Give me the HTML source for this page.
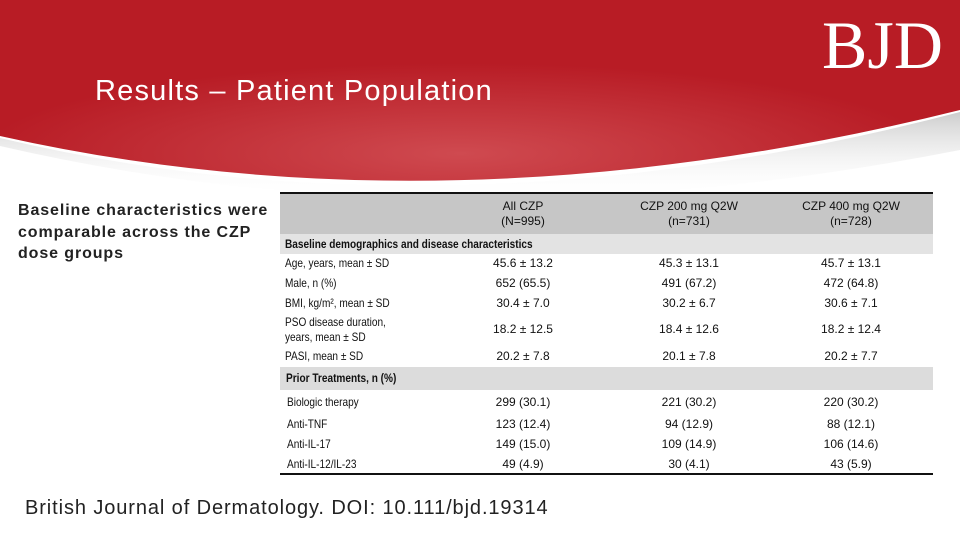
<!DOCTYPE html>
<html><head><meta charset="utf-8"><style>
body{margin:0;width:960px;height:540px;overflow:hidden;background:#fff;font-family:"Liberation Sans",sans-serif;position:relative}
.a{position:absolute;white-space:nowrap}
.c{transform:translateX(-50%);text-align:center}
.t{font-size:11px;color:#111}
.n{transform-origin:0 0;transform:scaleX(0.84)}
</style></head><body>
<svg class="a" style="left:0;top:0" width="960" height="200">
<defs><radialGradient id="g" cx="0.48" cy="0.85" r="0.5"><stop offset="0" stop-color="#cf4a50"/><stop offset="1" stop-color="#b81c25"/></radialGradient>
<linearGradient id="s" x1="0" y1="0" x2="0" y2="1"><stop offset="0" stop-color="#999" stop-opacity=".5"/><stop offset="1" stop-color="#fff" stop-opacity="0"/></linearGradient></defs>
<path d="M0,138 Q450,245 960,112 L960,150 Q450,250 0,146Z" fill="url(#s)"/>
<path d="M0,0H960V110 Q450,237 0,136Z" fill="url(#g)"/>
</svg>
<div class="a" style="left:822px;top:6px;font-family:'Liberation Serif',serif;font-size:68px;color:#fff;letter-spacing:0px">BJD</div>
<div class="a" style="left:95px;top:75px;font-size:29px;color:#fff;letter-spacing:1.2px">Results – Patient Population</div>
<div class="a" style="left:18px;top:200px;font-size:16px;font-weight:bold;color:#222;line-height:21.5px;letter-spacing:0.9px">Baseline characteristics were<br>comparable across the CZP<br>dose groups</div>
<div class="a" style="left:25px;top:497px;font-size:20px;color:#222;letter-spacing:0.9px">British Journal of Dermatology. DOI: 10.111/bjd.19314</div>
<div id="tbl">
<div class="a" style="left:280px;top:192px;width:653px;height:42px;background:#c6c6c6;border-top:2px solid #111"></div>
<div class="a" style="left:280px;top:234px;width:653px;height:20px;background:#e3e3e3"></div>
<div class="a" style="left:280px;top:367px;width:653px;height:23px;background:#dcdcdc"></div>
<div class="a" style="left:280px;top:473px;width:653px;height:2px;background:#111"></div>
<div class="a c t" style="left:523px;top:199px;line-height:15px;font-size:12px">All CZP<br>(N=995)</div>
<div class="a c t" style="left:689px;top:199px;line-height:15px;font-size:12px">CZP 200 mg Q2W<br>(n=731)</div>
<div class="a c t" style="left:851px;top:199px;line-height:15px;font-size:12px">CZP 400 mg Q2W<br>(n=728)</div>
<div class="a t n" style="left:285px;top:237px;font-weight:bold;font-size:12px">Baseline demographics and disease characteristics</div>
<div class="a t n" style="left:286px;top:371px;font-weight:bold;font-size:12px">Prior Treatments, n (%)</div>
</div>
<script>
const labels=["Age, years, mean ± SD","Male, n (%)","BMI, kg/m², mean ± SD","PSO disease duration,<br>years, mean ± SD","PASI, mean ± SD","Biologic therapy","Anti-TNF","Anti-IL-17","Anti-IL-12/IL-23"];
const allCzp=["45.6 ± 13.2","652 (65.5)","30.4 ± 7.0","18.2 ± 12.5","20.2 ± 7.8","299 (30.1)","123 (12.4)","149 (15.0)","49 (4.9)"];
const czp200=["45.3 ± 13.1","491 (67.2)","30.2 ± 6.7","18.4 ± 12.6","20.1 ± 7.8","221 (30.2)","94 (12.9)","109 (14.9)","30 (4.1)"];
const czp400=["45.7 ± 13.1","472 (64.8)","30.6 ± 7.1","18.2 ± 12.4","20.2 ± 7.7","220 (30.2)","88 (12.1)","106 (14.6)","43 (5.9)"];
const rowY=[263,283,303,329,356,402,424,444,464];
const tbl=document.getElementById('tbl');
function cell(html,x,y,cls){const d=document.createElement('div');d.className='a t '+cls;d.innerHTML=html;d.style.left=x+'px';d.style.top=(y-7)+'px';d.style.fontSize='12px';tbl.appendChild(d);return d;}
labels.forEach((l,i)=>{
 const multi=l.includes('<br>');
 const e=cell(l,i>=5?287:285,multi?rowY[i]-7:rowY[i],'n');e.style.lineHeight='15px';
 
 
 const a=cell(allCzp[i],523,rowY[i],'c');
 
 
 const b=cell(czp200[i],689,rowY[i],'c');
 
 
 const c=cell(czp400[i],851,rowY[i],'c');
 
 
});
</script>
</body></html>
